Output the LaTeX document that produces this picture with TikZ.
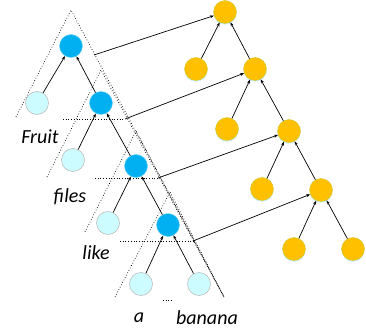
\documentclass[tikz,border=0pt]{standalone}
\usepackage{fontspec}
\setmainfont{Carlito}
\usetikzlibrary{arrows.meta,shadows}
\definecolor{bnode}{HTML}{00B0F0}
\definecolor{lnode}{HTML}{CCFCFF}
\definecolor{onode}{HTML}{FFC000}
\begin{document}
\begin{tikzpicture}[x=1pt,y=-1pt,
  bluenode/.style={circle,fill=bnode,draw=bnode!60,line width=0.4pt,minimum size=23pt,inner sep=0pt},
  lightnode/.style={circle,fill=lnode,draw=black!25,line width=0.6pt,minimum size=23pt,inner sep=0pt},
  orangenode/.style={circle,fill=onode,draw=onode!80!cyan,line width=0.4pt,minimum size=23pt,inner sep=0pt,
     drop shadow={shadow xshift=0pt,shadow yshift=-1.2pt,fill=cyan!35,opacity=0.6}},
  edge/.style={line width=0.7pt,-{Stealth[length=4pt,width=3pt]}},
  dots/.style={dotted,line width=0.7pt},
  word/.style={font=\itshape\fontsize{20}{22}\selectfont,inner sep=0pt}]
\useasboundingbox (0,0) rectangle (366,331);
% dotted triangles
\coordinate (t1) at (71,10);  \coordinate (t1l) at (16,117);
\coordinate (t2) at (101,70); \coordinate (t2l) at (47,177);
\coordinate (t3) at (136,131);\coordinate (t3l) at (85,232);
\coordinate (t4) at (170,192);\coordinate (t4l) at (115,297);
\coordinate (tb) at (224,297);
\draw[dots] (t1l) -- (t1) -- (tb);
\draw[dots] (t2l) -- (t2) -- (tb);
\draw[dots] (t3l) -- (t3) -- (tb);
\draw[dots] (t4l) -- (t4) -- (tb);
% horizontal cut lines
\coordinate (h1a) at (63,119);  \coordinate (h1b) at (125,119);
\coordinate (h2a) at (95,178);  \coordinate (h2b) at (158,178);
\coordinate (h3a) at (120,241); \coordinate (h3b) at (193,241);
\coordinate (h4a) at (163,300); \coordinate (h4b) at (171,300);
\coordinate (c1) at (94,55);
\draw[dots] (h1a) -- (h1b);
\draw[dots] (h2a) -- (h2b);
\draw[dots] (h3a) -- (h3b);
\draw[dots,line width=0.5pt] (h4a) -- (h4b);
% left tree
\node[bluenode] (b1) at (71,46) {};
\node[lightnode] (l1) at (37,103) {};
\node[bluenode] (b2) at (101,103) {};
\node[lightnode] (l2) at (73,160) {};
\node[bluenode] (b3) at (136,166) {};
\node[lightnode] (l3) at (108,223) {};
\node[bluenode] (b4) at (168,225) {};
\node[lightnode] (l4) at (141,284) {};
\node[lightnode] (l5) at (199,284) {};
\draw[edge] (l1) -- (b1);
\draw[edge] (b2) -- (b1);
\draw[edge] (l2) -- (b2);
\draw[edge] (b3) -- (b2);
\draw[edge] (l3) -- (b3);
\draw[edge] (b4) -- (b3);
\draw[edge] (l4) -- (b4);
\draw[edge] (l5) -- (b4);
% words
\node[word] (w1) at (40,137) {Fruit};
\node[word] (w2) at (70,197) {files};
\node[word] (w3) at (96,253) {like};
\node[word] (w4) at (139,318) {a};
\node[word] (w5) at (207,318) {banana};
% right tree
\node[orangenode] (o1) at (225,12) {};
\node[orangenode] (o2) at (196,69) {};
\node[orangenode] (o3) at (255,69) {};
\node[orangenode] (o4) at (227,129) {};
\node[orangenode] (o5) at (289,131) {};
\node[orangenode] (o6) at (262,189) {};
\node[orangenode] (o7) at (321,190) {};
\node[orangenode] (o8) at (294,249) {};
\node[orangenode] (o9) at (353,249) {};
\draw[edge] (o2) -- (o1);
\draw[edge] (o3) -- (o1);
\draw[edge] (o4) -- (o3);
\draw[edge] (o5) -- (o3);
\draw[edge] (o6) -- (o5);
\draw[edge] (o7) -- (o5);
\draw[edge] (o8) -- (o7);
\draw[edge] (o9) -- (o7);
% connectors
\draw[edge] (c1) -- (o1);
\draw[edge] (h1b) -- (o3);
\draw[edge] (h2b) -- (o5);
\draw[edge] (h3b) -- (o7);
\end{tikzpicture}
\end{document}
